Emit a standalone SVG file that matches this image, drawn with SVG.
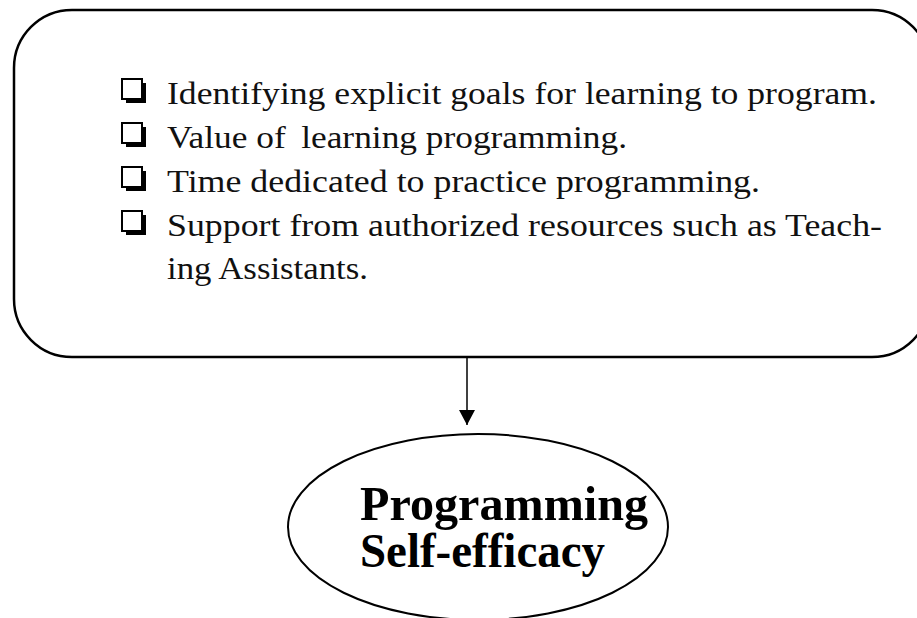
<svg xmlns="http://www.w3.org/2000/svg" width="917" height="618" viewBox="0 0 917 618">
  <style>
    .frame { fill: #ffffff; stroke: #000000; stroke-width: 2.5; }
    .item { font-family: "Liberation Serif", "Times New Roman", serif; font-size: 32px; fill: #111111; }
    .title { font-family: "Liberation Serif", "Times New Roman", serif; font-size: 49px; font-weight: bold; fill: #000000; }
    .link { stroke: #000000; stroke-width: 1.5; fill: none; }
  </style>
  <defs>
    <!-- square bullet with a drop shadow on the right and bottom -->
    <g id="checkbox">
      <rect x="1" y="0" width="20" height="20" fill="#ffffff" stroke="#000000" stroke-width="2"/>
      <polygon points="21,4 25,4 25,24 5,24 5,20 21,20" fill="#000000"/>
    </g>
    <!-- filled triangular arrowhead, drawn along +x so orient="auto" turns it with the line -->
    <marker id="arrowhead" viewBox="0 0 15 16" refX="15" refY="8" markerWidth="15" markerHeight="16" markerUnits="userSpaceOnUse" orient="auto">
      <polygon points="0,0 15,8 0,16" fill="#000000"/>
    </marker>
  </defs>

  <rect width="917" height="618" fill="#ffffff"/>

  <!-- factor list -->
  <g id="factors">
    <rect class="frame" x="14" y="10" width="916" height="347" rx="58" ry="58"/>
    <use href="#checkbox" x="121" y="79"/>
    <use href="#checkbox" x="121" y="123"/>
    <use href="#checkbox" x="121" y="167"/>
    <use href="#checkbox" x="121" y="211"/>
    <text class="item" x="167" y="104" textLength="710" lengthAdjust="spacingAndGlyphs">Identifying explicit goals for learning to program.</text>
    <text class="item" x="167" y="148" textLength="460" lengthAdjust="spacingAndGlyphs">Value of <tspan dx="6">learning programming.</tspan></text>
    <text class="item" x="167" y="192" textLength="593" lengthAdjust="spacingAndGlyphs">Time dedicated to practice programming.</text>
    <text class="item" x="167" y="236" textLength="715" lengthAdjust="spacingAndGlyphs">Support from authorized resources such as Teach-</text>
    <text class="item" x="167" y="279" textLength="201" lengthAdjust="spacingAndGlyphs">ing Assistants.</text>
  </g>

  <!-- outcome: two-line label inside the ellipse -->
  <g id="self-efficacy">
    <ellipse cx="478" cy="527" rx="190" ry="93" fill="#ffffff" stroke="#000000" stroke-width="2"/>
    <text class="title">
      <tspan x="360" y="520" textLength="288" lengthAdjust="spacingAndGlyphs">Programming</tspan>
      <tspan x="360" y="567" textLength="245" lengthAdjust="spacingAndGlyphs">Self-efficacy</tspan>
    </text>
  </g>

  <g id="connectors">
    <line class="link" x1="467" y1="357" x2="467" y2="425" marker-end="url(#arrowhead)"/>
  </g>
</svg>
